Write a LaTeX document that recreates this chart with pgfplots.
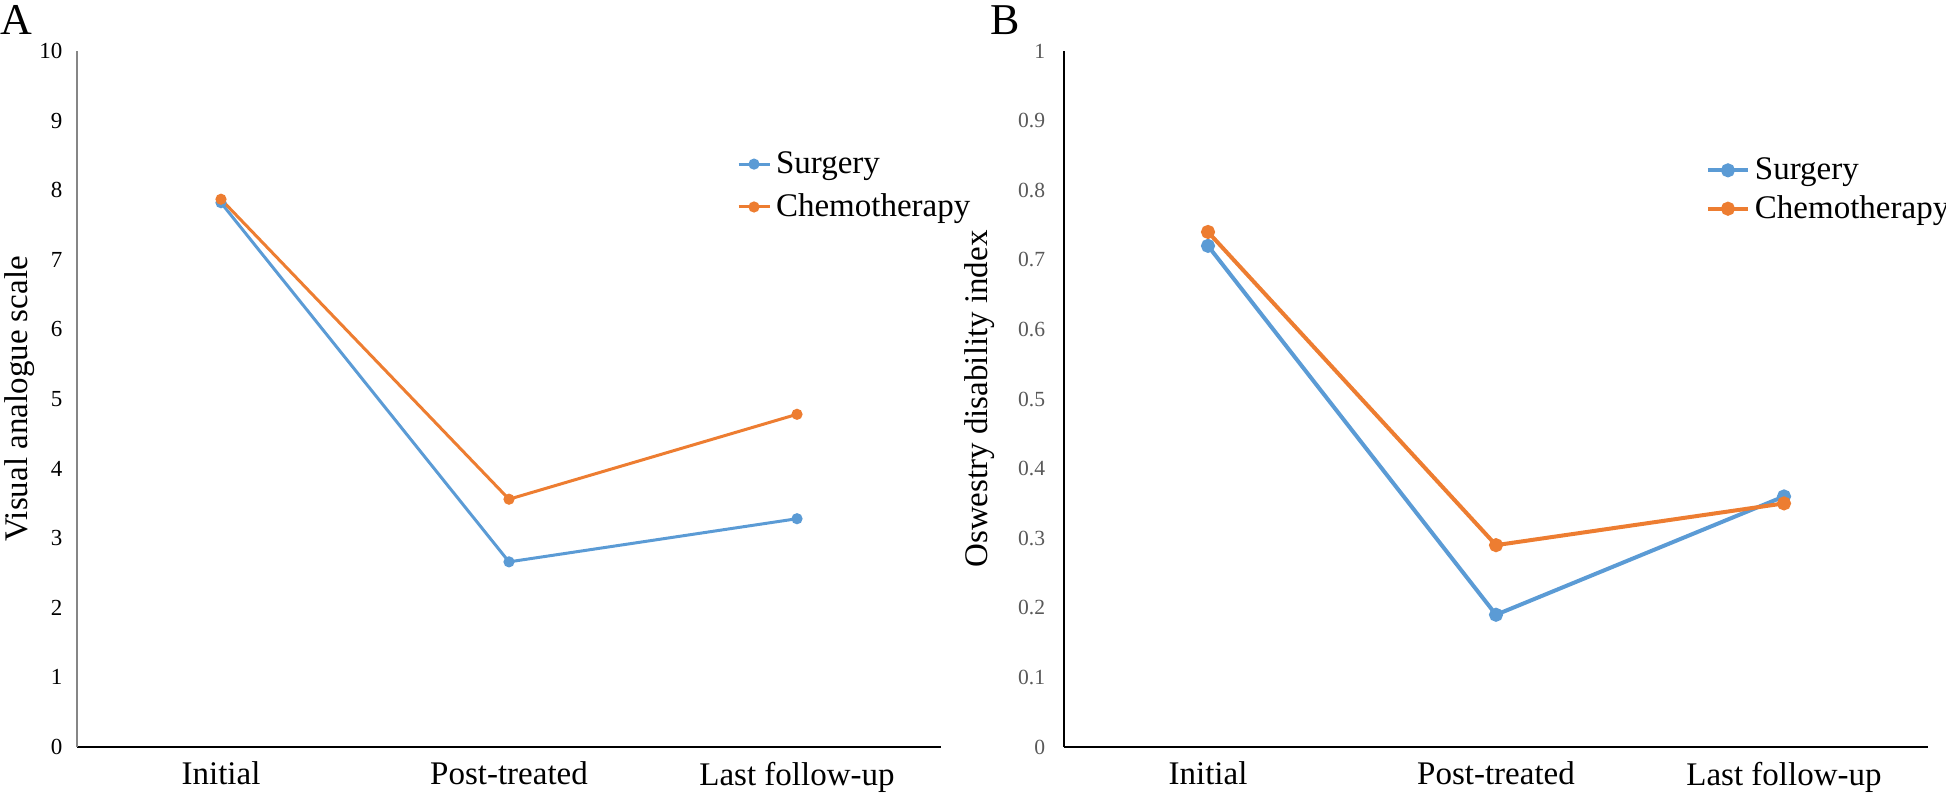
\documentclass[border=0pt]{standalone}
\usepackage{fontspec}
\setmainfont{Liberation Serif}
\usepackage{pgfplots}
\pgfplotsset{compat=1.18}
\definecolor{cblue}{HTML}{5B9BD5}
\definecolor{corange}{HTML}{ED7D31}
\definecolor{tickgray}{HTML}{595959}
\definecolor{axgray}{HTML}{868686}
\begin{document}
\begin{tikzpicture}
\useasboundingbox (0,0) rectangle (973pt,398.5pt);
\pgfplotsset{
  panel/.style={
    scale only axis, width=432pt, height=348pt, clip=false,
    xmin=-0.5, xmax=2.5, xtick={0,1,2},
    xticklabels={Initial,Post-treated,Last follow-up},
    axis x line*=bottom, axis y line*=left,
    major tick length=0pt,
    /pgf/number format/assume math mode=true,
    xticklabel style={font=\fontsize{16.5}{20}\selectfont, yshift=-4pt},
    legend cell align=left,
  }
}
% ---------------- Panel A ----------------
\begin{axis}[panel, at={(38.5pt,25pt)}, anchor=south west,
  ymin=0, ymax=10, ytick={0,1,2,3,4,5,6,7,8,9,10},
  x axis line style={black, line width=1.2pt},
  y axis line style={axgray, line width=1pt},
  yticklabel style={font=\fontsize{11.5}{14}\selectfont, xshift=-3.8pt},
  ylabel={Visual analogue scale},
  every axis y label/.style={at={(axis description cs:-0.066,0.5)}, rotate=90, anchor=center, font=\fontsize{16.5}{20}\selectfont},
  legend image code/.code={\draw[mark repeat=2,mark phase=2,#1] plot coordinates {(0pt,0pt) (7.75pt,0pt) (15.5pt,0pt)};},
  legend style={draw=none, fill=none, inner sep=0pt, outer sep=0pt,
    at={(axis description cs:0.7639,0.8063)}, anchor=west,
    font=\fontsize{16.5}{20}\selectfont,
    nodes={inner sep=0pt},
    column sep=2.5pt, row sep=8.75pt},
]
\addplot[cblue, line width=1.5pt, mark=*, mark size=2pt, mark options={solid}]
  coordinates {(0,7.82) (1,2.66) (2,3.28)};
\addlegendentry{Surgery}
\addplot[corange, line width=1.5pt, mark=*, mark size=2pt, mark options={solid}]
  coordinates {(0,7.87) (1,3.56) (2,4.78)};
\addlegendentry{Chemotherapy}
\node[anchor=base west, inner sep=0pt, font=\fontsize{22}{26}\selectfont] at (axis description cs:-0.089,1.023) {A};
\end{axis}
% ---------------- Panel B ----------------
\begin{axis}[panel, at={(532pt,25pt)}, anchor=south west,
  ymin=0, ymax=1, ytick={0,0.1,0.2,0.3,0.4,0.5,0.6,0.7,0.8,0.9,1},
  x axis line style={black, line width=1.2pt},
  y axis line style={black, line width=1.2pt},
  yticklabel style={font=\fontsize{10.8}{13}\selectfont, text=tickgray, xshift=-5.9pt},
  ylabel={Oswestry disability index},
  every axis y label/.style={at={(axis description cs:-0.0972,0.5)}, rotate=90, anchor=center, font=\fontsize{16.5}{20}\selectfont},
  legend image code/.code={\draw[mark repeat=2,mark phase=2,#1] plot coordinates {(0pt,0pt) (10pt,0pt) (20pt,0pt)};},
  legend style={draw=none, fill=none, inner sep=0pt, outer sep=0pt,
    at={(axis description cs:0.743,0.8006)}, anchor=west,
    font=\fontsize{16.5}{20}\selectfont,
    nodes={inner sep=0pt},
    column sep=2.5pt, row sep=6.5pt},
]
\addplot[cblue, line width=2pt, mark=*, mark size=2.5pt, mark options={solid}]
  coordinates {(0,0.72) (1,0.19) (2,0.36)};
\addlegendentry{Surgery}
\addplot[corange, line width=2pt, mark=*, mark size=2.5pt, mark options={solid}]
  coordinates {(0,0.74) (1,0.29) (2,0.35)};
\addlegendentry{Chemotherapy}
\node[anchor=base west, inner sep=0pt, font=\fontsize{22}{26}\selectfont] at (axis description cs:-0.085,1.023) {B};
\end{axis}
\end{tikzpicture}
\end{document}
